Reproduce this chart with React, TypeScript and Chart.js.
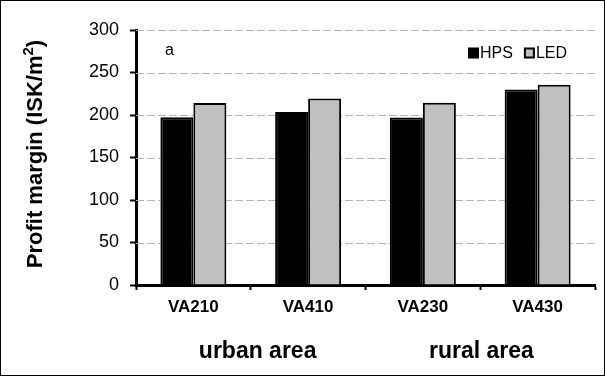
import React, { useEffect, useRef } from "react";
import { Chart, registerables } from "chart.js";

Chart.register(...registerables);

const categories = ["VA210", "VA410", "VA230", "VA430"];
const hpsValues = [197.5, 203.5, 197, 230];
const ledValues = [214, 219.5, 214.5, 235.5];
const seriesNames = ["HPS", "LED"];
const yTicks = [0, 50, 100, 150, 200, 250, 300];
const groupLabels = ["urban area", "rural area"];
// group label centre, expressed in category-index units
const groupLabelPos = [0.56, 2.51];
const panelLetter = "a";

const FONT = "'Liberation Sans', Arial, sans-serif";

export default function App() {
  const ref = useRef<HTMLCanvasElement>(null);

  useEffect(() => {
    if (!ref.current) return;
    const decor = {
      id: "decor",
      beforeDraw(chart: any) {
        const c = chart.ctx;
        c.save();
        c.fillStyle = "#fff";
        c.fillRect(0, 0, chart.width, chart.height);
        c.restore();
      },
      beforeDatasetsDraw(chart: any) {
        const c = chart.ctx;
        const area = chart.chartArea;
        const ys = chart.scales.y;
        c.save();
        c.strokeStyle = "#b4b4b4";
        c.lineWidth = 1;
        c.setLineDash([8, 3]);
        yTicks.forEach((v) => {
          if (v === 0) return;
          const y = Math.round(ys.getPixelForValue(v)) + 0.5;
          c.beginPath();
          c.moveTo(area.left, y);
          c.lineTo(area.right, y);
          c.stroke();
        });
        c.restore();
      },
      afterDraw(chart: any) {
        const c = chart.ctx;
        const area = chart.chartArea;
        const xs = chart.scales.x;
        c.save();
        // y title
        c.translate(36, 154);
        c.rotate(-Math.PI / 2);
        c.fillStyle = "#000";
        c.textBaseline = "middle";
        const main = "Profit margin (ISK/m";
        c.font = `bold 22px ${FONT}`;
        const w1 = c.measureText(main).width;
        c.font = `bold 15px ${FONT}`;
        const w2 = c.measureText("2").width;
        c.font = `bold 22px ${FONT}`;
        const w3 = c.measureText(")").width;
        const x0 = -(w1 + w2 + w3) / 2;
        c.textAlign = "left";
        c.fillText(main, x0, 0);
        c.font = `bold 15px ${FONT}`;
        c.fillText("2", x0 + w1, -7);
        c.font = `bold 22px ${FONT}`;
        c.fillText(")", x0 + w1 + w2, 0);
        c.restore();

        // group labels
        c.save();
        c.fillStyle = "#000";
        c.font = `bold 23px ${FONT}`;
        c.textAlign = "center";
        c.textBaseline = "alphabetic";
        groupLabels.forEach((g, i) => {
          c.fillText(g, xs.getPixelForValue(groupLabelPos[i]), 358);
        });
        // panel letter
        c.font = `16px ${FONT}`;
        c.textAlign = "left";
        c.textBaseline = "middle";
        c.fillText(panelLetter, area.left + 29, 51);
        // legend
        const ds = chart.data.datasets;
        c.font = `16px ${FONT}`;
        let lx = 468;
        const ly = 53;
        ds.forEach((d: any, i: number) => {
          c.fillStyle = "#000";
          c.fillRect(lx, ly - 5.5, 11, 11);
          c.fillStyle = d.backgroundColor;
          if (i > 0) c.fillRect(lx + 2, ly - 3.5, 7, 7);
          c.fillStyle = "#000";
          c.fillText(seriesNames[i], lx + 12, ly + 1);
          lx += 12 + c.measureText(seriesNames[i]).width + 11;
        });
        // outer frame
        c.strokeStyle = "#000";
        c.lineWidth = 1;
        c.strokeRect(0.5, 0.5, chart.width - 1, chart.height - 1);
        c.restore();
      },
    };

    const chart = new Chart(ref.current, {
      type: "bar",
      data: {
        labels: categories,
        datasets: [
          {
            label: seriesNames[0],
            data: hpsValues,
            backgroundColor: "#000000",
            borderColor: "#000000",
            borderWidth: 2,
          },
          {
            label: seriesNames[1],
            data: ledValues,
            backgroundColor: "#c0c0c0",
            borderColor: "#000000",
            borderWidth: 2,
          },
        ],
      },
      options: {
        animation: false,
        responsive: false,
        layout: { padding: { top: 30, right: 10, left: 0, bottom: 0 } },
        datasets: { bar: { categoryPercentage: 0.575, barPercentage: 1 } },
        plugins: { legend: { display: false }, tooltip: { enabled: false } },
        scales: {
          x: {
            grid: {
              display: true,
              drawOnChartArea: false,
              drawTicks: true,
              tickLength: 5,
              tickColor: "#000",
              tickWidth: 2,
            },
            border: { display: true, color: "#000", width: 3 },
            ticks: {
              color: "#000",
              font: { family: FONT, size: 17, weight: "bold" },
              padding: 7,
            },
            afterFit(scale: any) {
              scale.height = 91;
            },
          },
          y: {
            min: 0,
            max: 300,
            afterBuildTicks(scale: any) {
              scale.ticks = yTicks.map((v) => ({ value: v }));
            },
            grid: {
              display: true,
              drawOnChartArea: false,
              drawTicks: true,
              tickLength: 6,
              tickColor: "#000",
              tickWidth: 2,
            },
            border: { display: true, color: "#000", width: 3 },
            ticks: {
              color: "#000",
              font: { family: FONT, size: 18 },
              padding: 11,
            },
            afterFit(scale: any) {
              scale.width = 136;
            },
          },
        },
      },
      plugins: [decor],
    });
    return () => chart.destroy();
  }, []);

  return (
    <div style={{ position: "fixed", left: 0, top: 0 }}>
      <canvas ref={ref} width={605} height={376} style={{ display: "block" }} />
    </div>
  );
}
